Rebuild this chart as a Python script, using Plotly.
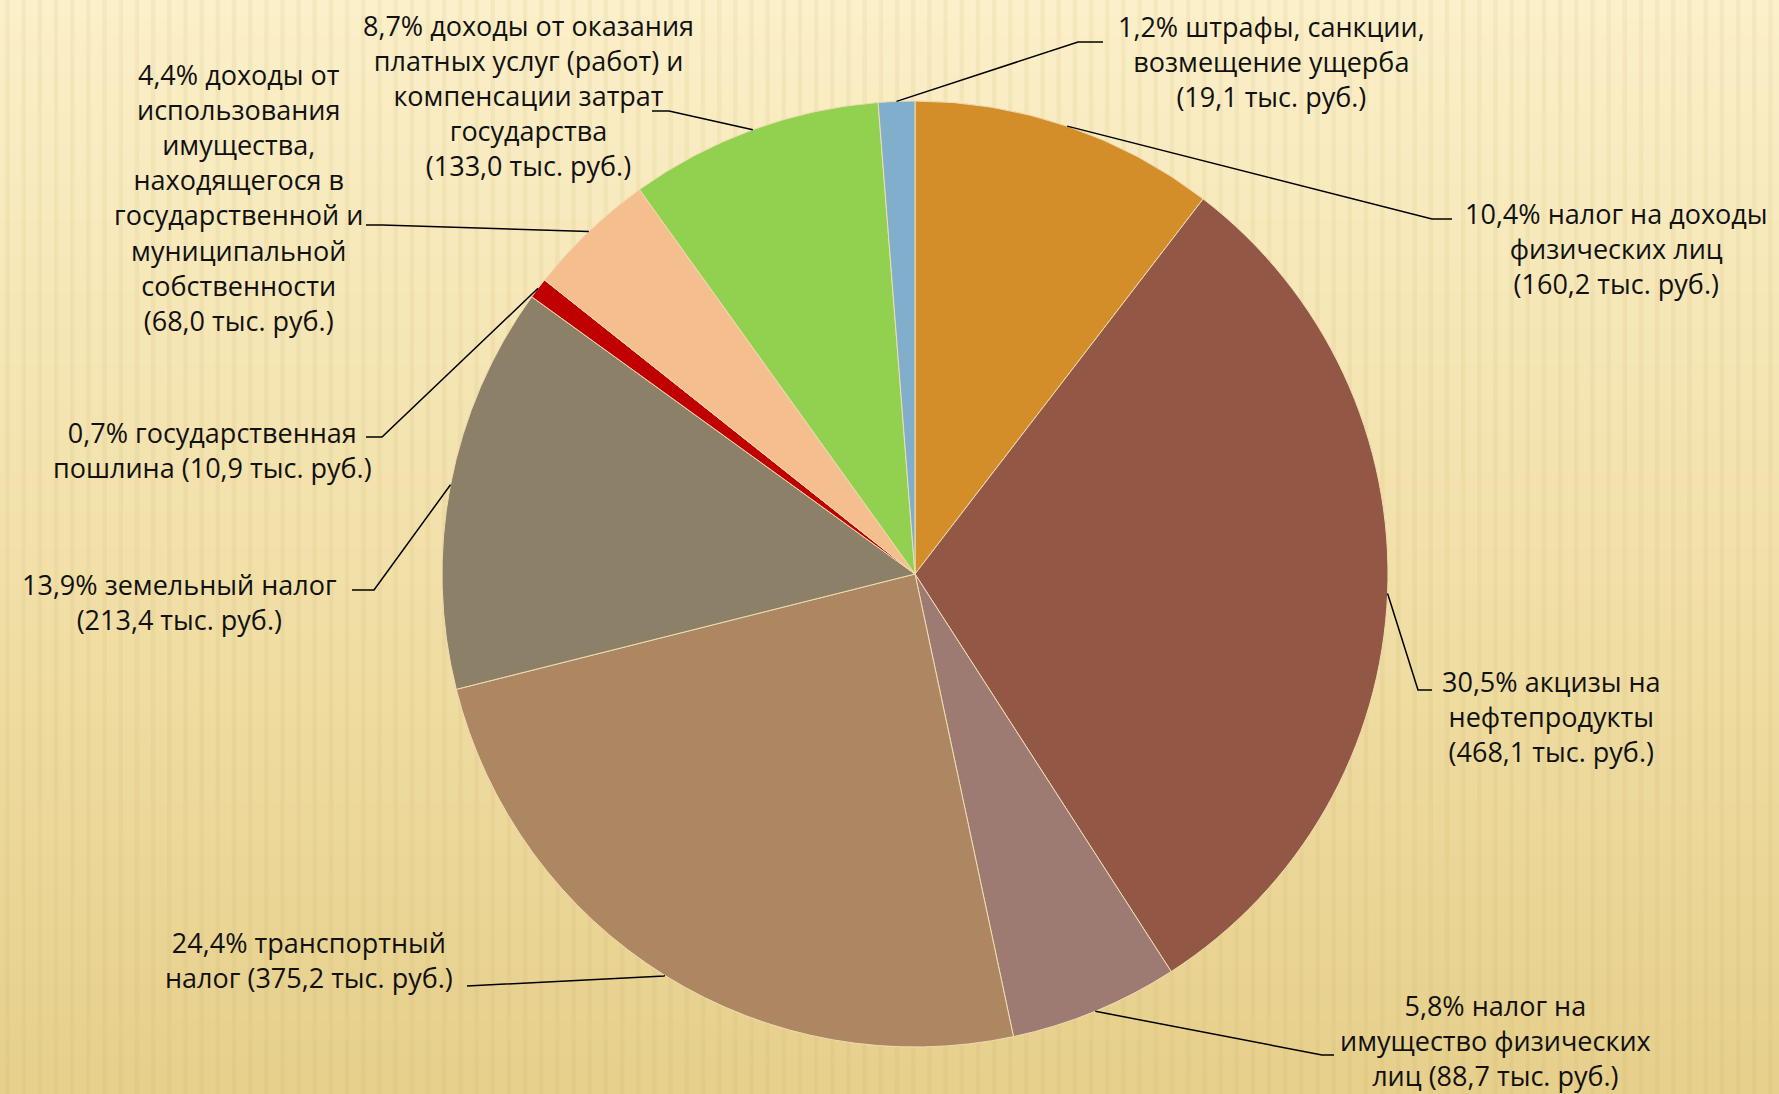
import math
import plotly.graph_objects as go

# ---------------- data ----------------
categories = [
    "налог на доходы физических лиц",
    "акцизы на нефтепродукты",
    "налог на имущество физических лиц",
    "транспортный налог",
    "земельный налог",
    "государственная пошлина",
    "доходы от использования имущества, находящегося в государственной и муниципальной собственности",
    "доходы от оказания платных услуг (работ) и компенсации затрат государства",
    "штрафы, санкции, возмещение ущерба",
]
values = [160.2, 468.1, 88.7, 375.2, 213.4, 10.9, 68.0, 133.0, 19.1]
percent_labels = ["10,4%", "30,5%", "5,8%", "24,4%", "13,9%", "0,7%", "4,4%", "8,7%", "1,2%"]
label_texts = [
    "10,4% налог на доходы<br>физических лиц<br>(160,2 тыс. руб.)",
    "30,5% акцизы на<br>нефтепродукты<br>(468,1 тыс. руб.)",
    "5,8% налог на<br>имущество физических<br>лиц (88,7 тыс. руб.)",
    "24,4% транспортный<br>налог (375,2 тыс. руб.)",
    "13,9% земельный налог<br>(213,4 тыс. руб.)",
    "0,7% государственная<br>пошлина (10,9 тыс. руб.)",
    "4,4% доходы от<br>использования<br>имущества,<br>находящегося в<br>государственной и<br>муниципальной<br>собственности<br>(68,0 тыс. руб.)",
    "8,7% доходы от оказания<br>платных услуг (работ) и<br>компенсации затрат<br>государства<br>(133,0 тыс. руб.)",
    "1,2% штрафы, санкции,<br>возмещение ущерба<br>(19,1 тыс. руб.)",
]
colors = ["#D38E2A", "#935745", "#9E7B72", "#AD8662", "#8C8068",
          "#C00000", "#F4BE8E", "#92D050", "#80AECB"]

# ---------------- layout geometry ----------------
W, H = 1779, 1094
CX, CY, R = 915, 574, 473  # pie centre / radius in pixels

# label anchor (text centre x, text centre y) and leader elbow / end points in pixels
label_pos = [
    (1616, 249), (1551, 716), (1495, 1040), (309, 960), (179, 602),
    (212, 450), (238, 198), (528, 96), (1271, 62),
]
leader_elbow = [
    (1432, 219), (1418, 690), (1322, 1055), (664, 976), (374, 590),
    (382, 437), (382, 225), (669, 111), (1078, 42),
]
leader_end = [
    (1452, 219), (1432, 690), (1334, 1055), (467, 986), (352, 590),
    (366, 437), (366, 225), (652, 111), (1103, 42),
]

fig = go.Figure()

fig.add_trace(go.Pie(
    labels=categories,
    values=values,
    sort=False,
    direction="clockwise",
    rotation=0,
    marker=dict(colors=colors, line=dict(color="#EFDDB0", width=1)),
    textinfo="none",
    hoverinfo="label+value+percent",
    showlegend=False,
    domain=dict(x=[(CX - R) / W, (CX + R) / W], y=[1 - (CY + R) / H, 1 - (CY - R) / H]),
))

shapes = []
# background gradient bands
top = (252, 240, 202)
mid = (242, 225, 170)
bot = (231, 208, 140)
n_bands = 60
for i in range(n_bands):
    t = i / (n_bands - 1)
    if t < 0.5:
        a, b, u = top, mid, t / 0.5
    else:
        a, b, u = mid, bot, (t - 0.5) / 0.5
    c = tuple(int(a[k] + (b[k] - a[k]) * u) for k in range(3))
    shapes.append(dict(type="rect", xref="paper", yref="paper", layer="below",
                       x0=0, x1=1, y0=1 - (i + 1) / n_bands - 0.002, y1=1 - i / n_bands,
                       fillcolor="rgb(%d,%d,%d)" % c, line=dict(width=0)))
# subtle stripes
n_str = 110
for i in range(n_str):
    x0 = i / n_str
    shapes.append(dict(type="path", xref="paper", yref="paper", layer="below",
                       path="M %f,1 L %f,1 L %f,0 L %f,0 Z" % (x0 + 0.003, x0 + 0.0055, x0 + 0.0055, x0 + 0.003),
                       fillcolor="rgba(200,170,90,0.10)", line=dict(width=0)))

# leader lines computed from slice mid-angles
total = sum(values)
cum = 0.0
for i, v in enumerate(values):
    mid_frac = (cum + v / 2) / total
    cum += v
    ang = 2 * math.pi * mid_frac
    px = CX + R * math.sin(ang)
    py = CY - R * math.cos(ang)
    ex, ey = leader_elbow[i]
    fx, fy = leader_end[i]
    path = "M %f,%f L %f,%f L %f,%f" % (px / W, 1 - py / H, ex / W, 1 - ey / H, fx / W, 1 - fy / H)
    shapes.append(dict(type="path", xref="paper", yref="paper", path=path,
                       line=dict(color="black", width=1.5)))

annotations = []
for i, t in enumerate(label_texts):
    lx, ly = label_pos[i]
    annotations.append(dict(
        x=lx / W, y=1 - ly / H, xref="paper", yref="paper",
        text=t, showarrow=False, align="center",
        xanchor="center", yanchor="middle",
        font=dict(family="Open Sans, Liberation Sans, Arial, sans-serif", size=27, color="#111111"),
    ))

fig.update_layout(
    width=W, height=H, autosize=False,
    margin=dict(l=0, r=0, t=0, b=0),
    paper_bgcolor="#F2E1AA",
    plot_bgcolor="rgba(0,0,0,0)",
    shapes=shapes,
    annotations=annotations,
)

fig.write_html(
    "out.html",
    config={"displayModeBar": False},
    post_script="document.body.style.margin='0';document.body.style.padding='0';"
                "document.body.style.overflow='hidden';document.body.style.background='#F2E1AA';",
)
